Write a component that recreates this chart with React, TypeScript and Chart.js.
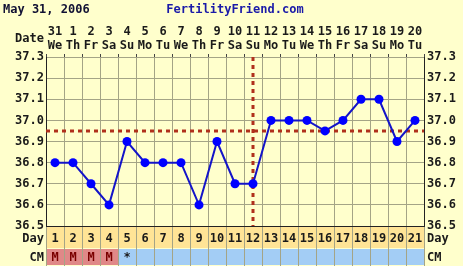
import React, { useEffect, useRef } from "react";
import { Chart, registerables } from "chart.js";

Chart.register(...registerables);

const title = "May 31, 2006";
const siteName = "FertilityFriend.com";
const dayNumbers = ["1","2","3","4","5","6","7","8","9","10","11","12","13","14","15","16","17","18","19","20","21"];
const dates = ["31","1","2","3","4","5","6","7","8","9","10","11","12","13","14","15","16","17","18","19","20"];
const weekdays = ["We","Th","Fr","Sa","Su","Mo","Tu","We","Th","Fr","Sa","Su","Mo","Tu","We","Th","Fr","Sa","Su","Mo","Tu"];
const temps = [36.8,36.8,36.7,36.6,36.9,36.8,36.8,36.8,36.6,36.9,36.7,36.7,37.0,37.0,37.0,36.95,37.0,37.1,37.1,36.9,37.0];
const cmCodes = ["M","M","M","M","*","","","","","","","","","","","","","","","",""];
const coverLine = 36.95;
const ovulationDay = "12";
const yMin = 36.5;
const yMax = 37.3;

const FONT = "'DejaVu Sans Mono', monospace";
const TEXT = "#1a1a1a";
const GRID = "#a4a486";

const chartDecor = {
  id: "chartDecor",
  beforeDraw(chart: any) {
    const { ctx, chartArea } = chart;
    ctx.save();
    ctx.fillStyle = "#ffffcc";
    ctx.fillRect(0, 0, chart.width, chart.height);
    ctx.restore();
  },
  beforeDatasetsDraw(chart: any) {
    const { ctx, chartArea, scales } = chart;
    const x = scales.x;
    const y = scales.y;
    ctx.save();
    ctx.strokeStyle = "#b0301c";
    ctx.lineWidth = 3;
    ctx.setLineDash([4, 4]);
    const cy = Math.round(y.getPixelForValue(coverLine));
    ctx.beginPath();
    ctx.moveTo(chartArea.left, cy);
    ctx.lineTo(chartArea.right, cy);
    ctx.stroke();
    const ox = Math.round(x.getPixelForValue(dayNumbers.indexOf(ovulationDay)));
    ctx.beginPath();
    ctx.moveTo(ox, chartArea.top);
    ctx.lineTo(ox, chartArea.bottom);
    ctx.stroke();
    ctx.restore();
  },
  afterDraw(chart: any) {
    const { ctx, chartArea, scales } = chart;
    const x = scales.x;
    const n = dayNumbers.length;
    const colW = (chartArea.right - chartArea.left) / n;
    ctx.save();
    // header
    ctx.font = `bold 12px ${FONT}`;
    ctx.textBaseline = "middle";
    ctx.fillStyle = "#111133";
    ctx.textAlign = "left";
    ctx.fillText(title, 3, 10);
    ctx.fillStyle = "#1a1aa8";
    ctx.textAlign = "center";
    ctx.fillText(siteName, 235, 10);
    // date / weekday row
    ctx.fillStyle = TEXT;
    ctx.textAlign = "right";
    ctx.fillText("Date", chartArea.left - 2, 39);
    ctx.textAlign = "center";
    for (let i = 0; i < n; i++) {
      const cx = x.getPixelForValue(i);
      ctx.fillText(dates[i], cx, 32);
      ctx.fillText(weekdays[i], cx, 46);
    }
    // top ticks
    ctx.strokeStyle = "#444";
    ctx.lineWidth = 1;
    for (let i = 0; i <= n; i++) {
      const lx = Math.round(chartArea.left + i * colW) + 0.5;
      ctx.beginPath();
      ctx.moveTo(lx, chartArea.top - 3);
      ctx.lineTo(lx, chartArea.top);
      ctx.stroke();
    }
    // bottom rows
    const dayTop = chartArea.bottom + 1;
    const dayH = 21;
    const cmTop = dayTop + dayH + 1;
    const cmH = chart.height - cmTop - 1;
    ctx.fillStyle = "#ffe496";
    ctx.fillRect(chartArea.left, dayTop, chartArea.right - chartArea.left, dayH);
    ctx.fillStyle = "#a3cdf5";
    ctx.fillRect(chartArea.left, cmTop, chartArea.right - chartArea.left, cmH);
    for (let i = 0; i < n; i++) {
      if (cmCodes[i] === "M") {
        const l = chartArea.left + i * colW;
        ctx.fillStyle = "#e08888";
        ctx.fillRect(l + 1, cmTop, colW - 1, cmH);
      }
    }
    ctx.strokeStyle = GRID;
    for (let i = 0; i <= n; i++) {
      const lx = Math.round(chartArea.left + i * colW) + 0.5;
      ctx.beginPath();
      ctx.moveTo(lx, dayTop);
      ctx.lineTo(lx, chart.height);
      ctx.stroke();
    }
    ctx.font = `bold 12px ${FONT}`;
    ctx.textAlign = "center";
    for (let i = 0; i < n; i++) {
      const cx = x.getPixelForValue(i);
      ctx.fillStyle = TEXT;
      ctx.fillText(dayNumbers[i], cx, dayTop + dayH / 2 + 1);
      if (cmCodes[i]) {
        ctx.fillStyle = cmCodes[i] === "M" ? "#7a0000" : TEXT;
        ctx.fillText(cmCodes[i], cx, cmTop + cmH / 2 + 1);
      }
    }
    ctx.fillStyle = TEXT;
    ctx.textAlign = "right";
    ctx.fillText("Day", chartArea.left - 2, dayTop + dayH / 2 + 1);
    ctx.fillText("CM", chartArea.left - 2, cmTop + cmH / 2 + 1);
    ctx.textAlign = "left";
    ctx.fillText("Day", chartArea.right + 3, dayTop + dayH / 2 + 1);
    ctx.fillText("CM", chartArea.right + 3, cmTop + cmH / 2 + 1);
    ctx.restore();
  },
};

export default function App() {
  const ref = useRef<HTMLCanvasElement | null>(null);
  useEffect(() => {
    document.body.style.margin = "0";
    document.body.style.background = "#ffffcc";
    if (!ref.current) return;
    const tickFont = { family: FONT, size: 12, weight: "bold" as const };
    const chart = new Chart(ref.current, {
      type: "line",
      data: {
        labels: dayNumbers,
        datasets: [
          {
            data: temps,
            borderColor: "#1414c8",
            borderWidth: 2,
            pointRadius: 4.5,
            pointBackgroundColor: "#0000ff",
            pointBorderColor: "#0000ff",
            pointBorderWidth: 0,
            tension: 0,
          },
        ],
      },
      options: {
        responsive: false,
        animation: false,
        events: [],
        layout: { padding: { top: 57, left: 0, right: 0, bottom: 0 } },
        plugins: { legend: { display: false }, tooltip: { enabled: false } },
        scales: {
          x: {
            type: "category",
            position: "bottom",
            offset: true,
            grid: { offset: true, color: GRID, drawTicks: false },
            border: { display: true, color: "#222", width: 1 },
            ticks: { display: false },
            afterFit: (s: any) => { s.height = 40; },
          },
          y: {
            position: "left",
            min: yMin,
            max: yMax,
            ticks: {
              stepSize: 0.1,
              font: tickFont,
              color: TEXT,
              padding: 2,
              callback: (v: any) => Number(v).toFixed(1),
            },
            grid: { color: GRID, drawTicks: false },
            border: { display: true, color: "#222" },
            afterFit: (s: any) => { s.width = 46; },
          },
          y2: {
            position: "right",
            min: yMin,
            max: yMax,
            ticks: {
              stepSize: 0.1,
              font: tickFont,
              color: TEXT,
              padding: 3,
              callback: (v: any) => Number(v).toFixed(1),
            },
            grid: { display: false, drawTicks: false },
            border: { display: true, color: "#222" },
            afterFit: (s: any) => { s.width = 39; },
          },
        },
      },
      plugins: [chartDecor],
    });
    return () => chart.destroy();
  }, []);
  return <canvas ref={ref} width={463} height={266} style={{ display: "block" }} />;
}
